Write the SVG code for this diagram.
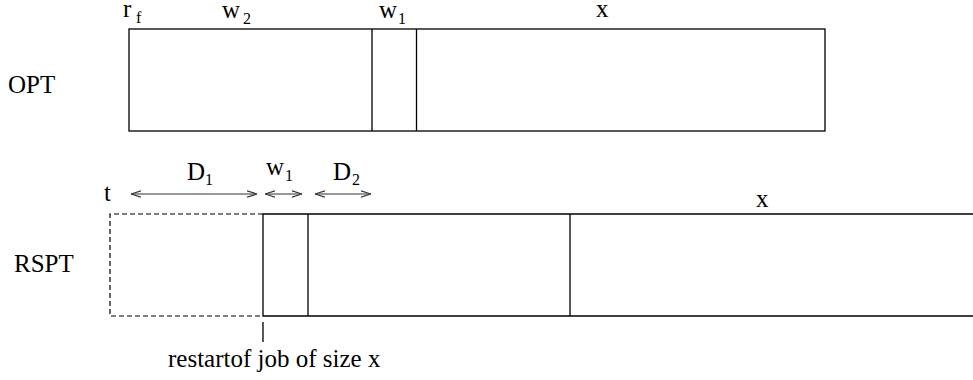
<svg xmlns="http://www.w3.org/2000/svg" width="973" height="380" viewBox="0 0 973 380">
<style>
text{font-family:'Liberation Serif','Times New Roman','DejaVu Serif',serif;font-size:25px;fill:#000}
.sub{font-size:16px}
.ln{stroke:#000;stroke-width:1.3;fill:none}
.dash{stroke:#000;stroke-width:1.2;fill:none;stroke-dasharray:5 3}
.arr{stroke:#333;stroke-width:1.1;fill:none;marker-start:url(#ah);marker-end:url(#ah)}
</style>
<defs>
<marker id="ah" viewBox="0 0 10 8" refX="10" refY="4" markerWidth="10" markerHeight="8" markerUnits="userSpaceOnUse" orient="auto-start-reverse">
<polyline points="0,0.8 10,4 0,7.2" fill="none" stroke="#333" stroke-width="1.1"/>
</marker>
</defs>
<rect width="973" height="380" fill="#fff"/>
<g id="opt">
<text x="8" y="93">OPT</text>
<rect class="ln" x="129" y="29" width="696" height="102"/>
<line class="ln" x1="372" y1="29" x2="372" y2="131"/>
<line class="ln" x1="416.5" y1="29" x2="416.5" y2="131"/>
<text x="123" y="17">r</text><text class="sub" x="136" y="23">f</text>
<text x="222" y="18">w</text><text class="sub" x="243" y="24">2</text>
<text x="379" y="18">w</text><text class="sub" x="398" y="24">1</text>
<text x="596" y="17">x</text>
</g>
<g id="rspt">
<text x="14" y="272">RSPT</text>
<path class="dash" d="M263,214 H110 V316 H263"/>
<path class="ln" d="M973,214 H263 V316 H973"/>
<line class="ln" x1="308" y1="214" x2="308" y2="316"/>
<line class="ln" x1="570" y1="214" x2="570" y2="316"/>
<text x="756" y="207">x</text>
<text x="104" y="201">t</text>
<text x="187" y="180">D</text><text class="sub" x="205" y="185">1</text>
<text x="266" y="175">w</text><text class="sub" x="285" y="181">1</text>
<text x="333" y="180">D</text><text class="sub" x="352" y="185">2</text>
<line class="ln" x1="263" y1="322" x2="263" y2="342"/>
<text x="168" y="367">restartof job of size x</text>
</g>
<g id="connectors">
<line class="arr" x1="131" y1="194" x2="257" y2="194"/>
<line class="arr" x1="265" y1="194" x2="302" y2="194"/>
<line class="arr" x1="315" y1="194" x2="371" y2="194"/>
</g>
</svg>
